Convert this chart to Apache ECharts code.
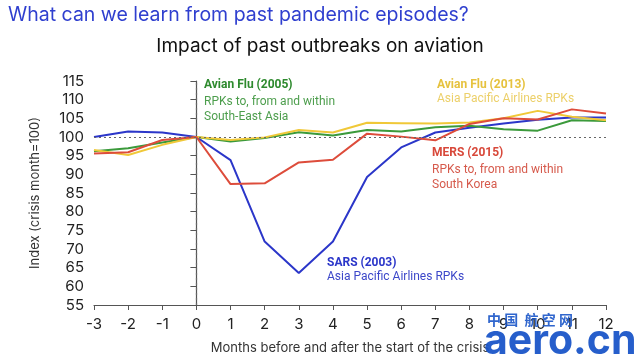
<!DOCTYPE html>
<html><head><meta charset="utf-8">
<script src="https://cdn.jsdelivr.net/npm/echarts@6/dist/echarts.min.js"></script>
<style>html,body{margin:0;padding:0;background:#fff}#c{width:640px;height:361px}</style>
</head><body><div id="c"></div>
<script>
const months = [-3,-2,-1,0,1,2,3,4,5,6,7,8,9,10,11,12];
const sars2003 = [100,101.5,101.2,100,93.8,72,63.6,72,89.3,97.2,101.2,102.5,103.6,104.6,105.2,105.2];
const avian2005 = [96.2,97,98.5,100,98.8,99.7,101.3,100.4,101.9,101.5,102.6,103,102.1,101.7,104.5,104.3];
const avian2013 = [96.5,95.2,97.9,100,99.2,99.9,101.9,101.2,103.8,103.7,103.6,103.9,105,107,105.4,104.5];
const mers2015 = [95.6,95.9,99.2,100,87.4,87.6,93.2,93.9,100.9,100.1,99.1,103.5,105,104.7,107.4,106.3];
const yTicks = [55,115,5];

const C = {blue:'#2b36c9', green:'#3b9a3b', yellow:'#f0c838', red:'#dd4c3b'};
const font = 'Inter, "Noto Sans", sans-serif';
const afont = 'Roboto, "Noto Sans", sans-serif';
const pair = arr => months.map((m,i)=>[m,arr[i]]);
const ch = echarts.init(document.getElementById('c'));
const line = (name, arr, color) => ({name, type:'line', data:pair(arr), symbol:'none', lineStyle:{color, width:2}, itemStyle:{color}, z:3});
ch.setOption({
  animation:false,
  textStyle:{fontFamily:font},
  grid:{left:94, right:34, top:81, bottom:56},
  xAxis:{type:'value', min:-3, max:12, interval:1,
    axisLine:{lineStyle:{color:'#555', width:1.2}},
    axisTick:{show:true, length:5, lineStyle:{color:'#555'}},
    axisLabel:{color:'#222', fontSize:15, margin:12, fontFamily:font},
    splitLine:{show:false},
    name:'Months before and after the start of the crisis', nameLocation:'middle', nameGap:37,
    nameTextStyle:{color:'#333', fontSize:13, fontFamily:font}},
  yAxis:{type:'value', min:yTicks[0], max:yTicks[1], interval:yTicks[2],
    axisLine:{show:true, lineStyle:{color:'#555', width:1.2}},
    axisTick:{show:true, length:6, lineStyle:{color:'#555'}},
    axisLabel:{color:'#222', fontSize:15, margin:10, fontFamily:font},
    splitLine:{show:false},
    name:'Index (crisis month=100)', nameLocation:'middle', nameGap:52, nameRotate:90,
    nameTextStyle:{color:'#333', fontSize:13, fontFamily:font}},
  series:[
    Object.assign(line('SARS (2003)', sars2003, C.blue), {
      markLine:{silent:true, symbol:'none', label:{show:false},
        lineStyle:{color:'#666', type:[2,3], width:1.2},
        data:[{yAxis:100},{xAxis:0}]}
    }),
    line('Avian Flu (2005)', avian2005, C.green),
    line('Avian Flu (2013)', avian2013, C.yellow),
    line('MERS (2015)', mers2015, C.red)
  ],
  graphic:[
    {type:'text', left:8, top:5, style:{text:'What can we learn from past pandemic episodes?', fill:'#2f3fcf', font:'19.5px '+font}},
    {type:'text', left:'center', top:37, style:{text:'Impact of past outbreaks on aviation', fill:'#111', font:'19px '+font}},
    {type:'text', left:204, top:79, style:{text:'Avian Flu (2005)', fill:'#2e8a2e', font:'bold 12px '+afont}},
    {type:'text', left:204, top:94, style:{text:'RPKs to, from and within\nSouth-East Asia', fill:'#4d9e4d', font:'12px '+afont, lineHeight:15.5}},
    {type:'text', left:437, top:79, style:{text:'Avian Flu (2013)', fill:'#e6c23e', font:'bold 12px '+afont}},
    {type:'text', left:437, top:93, style:{text:'Asia Pacific Airlines RPKs', fill:'#ecd06a', font:'12px '+afont}},
    {type:'text', left:432, top:147, style:{text:'MERS (2015)', fill:'#d8483a', font:'bold 12px '+afont}},
    {type:'text', left:432, top:162, style:{text:'RPKs to, from and within\nSouth Korea', fill:'#d65a4c', font:'12px '+afont, lineHeight:15.5}},
    {type:'text', left:327, top:257, style:{text:'SARS (2003)', fill:'#2b36c9', font:'bold 12px '+afont}},
    {type:'text', left:327, top:271, style:{text:'Asia Pacific Airlines RPKs', fill:'#3c47c9', font:'12px '+afont}},
    {type:'text', left:487, top:313, z:10, style:{text:'中 国  航 空 网', fill:'#1a55c8', font:'bold 14px "Noto Sans CJK SC", sans-serif', opacity:0.9}},
    {type:'text', left:484, top:321, z:10, style:{text:'aero.cn', fill:'#1a55c8', font:'bold 41px '+font, opacity:0.95}}
  ]
});
</script></body></html>
